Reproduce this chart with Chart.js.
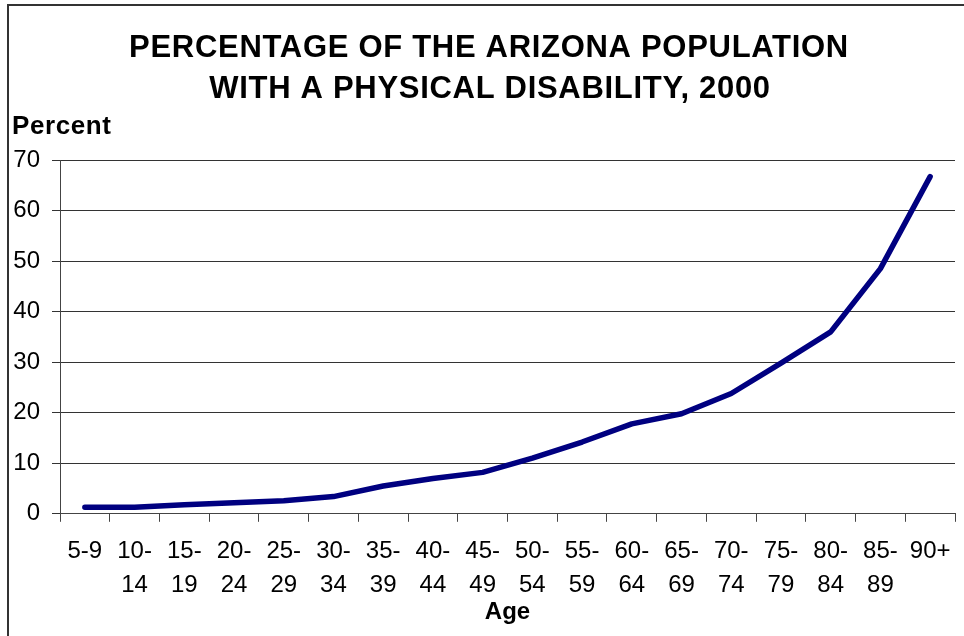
<!DOCTYPE html>
<html>
<head>
<meta charset="utf-8">
<script src="https://cdn.jsdelivr.net/npm/chart.js@4.4.1/dist/chart.umd.min.js"></script>
<style>
  html, body { margin: 0; padding: 0; background: #fff; }
  #wrap { width: 964px; height: 636px; position: relative; }
</style>
</head>
<body>
<div id="wrap"><canvas id="chart" width="964" height="636"></canvas></div>
<script>
// age groups and percent with a physical disability
const ageGroups = [
  ["5-9"], ["10-", "14"], ["15-", "19"], ["20-", "24"], ["25-", "29"], ["30-", "34"],
  ["35-", "39"], ["40-", "44"], ["45-", "49"], ["50-", "54"], ["55-", "59"], ["60-", "64"],
  ["65-", "69"], ["70-", "74"], ["75-", "79"], ["80-", "84"], ["85-", "89"], ["90+"]
];
const percentValues = [1.3, 1.3, 1.8, 2.2, 2.6, 3.4, 5.5, 7.0, 8.2, 11.0, 14.2, 17.8, 19.8, 23.8, 29.8, 36.0, 48.5, 66.7];
const yTicks = [0, 10, 20, 30, 40, 50, 60, 70];

const titleLines = ["PERCENTAGE OF THE ARIZONA POPULATION", "WITH A PHYSICAL DISABILITY, 2000"];

const font = "'Liberation Sans', Arial, sans-serif";

// frame lines, the title and the "Percent" label
const extras = {
  id: "extras",
  afterDraw(chart) {
    const ctx = chart.ctx;
    ctx.save();
    ctx.strokeStyle = "#333";
    ctx.lineWidth = 2;
    ctx.beginPath();
    ctx.moveTo(8, 636);
    ctx.lineTo(8, 5);
    ctx.lineTo(964, 5);
    ctx.stroke();

    ctx.fillStyle = "#000";
    ctx.textBaseline = "alphabetic";
    ctx.font = "bold 31px " + font;
    ctx.letterSpacing = "0.7px";
    ctx.textAlign = "center";
    ctx.fillText(titleLines[0], 489, 57);
    ctx.fillText(titleLines[1], 490, 98);

    ctx.font = "bold 26px " + font;
    ctx.letterSpacing = "0.6px";
    ctx.textAlign = "left";
    ctx.fillText("Percent", 12, 134);
    ctx.restore();
  }
};

new Chart(document.getElementById("chart"), {
  type: "line",
  data: {
    labels: ageGroups,
    datasets: [{
      data: percentValues,
      borderColor: "#000080",
      borderWidth: 5.5,
      borderCapStyle: "round",
      borderJoinStyle: "round",
      pointRadius: 0,
      tension: 0,
      fill: false
    }]
  },
  options: {
    responsive: false,
    animation: false,
    layout: { padding: { left: 0, right: 9, top: 160, bottom: 12 } },
    plugins: {
      legend: { display: false },
      tooltip: { enabled: false },
      title: { display: false }
    },
    scales: {
      x: {
        offset: true,
        grid: {
          offset: true,
          drawOnChartArea: false,
          drawTicks: true,
          tickLength: 8,
          color: "#444",
          lineWidth: 1
        },
        border: { display: true, color: "#444", width: 1 },
        ticks: {
          color: "#000",
          font: { family: font, size: 24, lineHeight: 1.4 },
          padding: 13,
          maxRotation: 0,
          autoSkip: false
        },
        title: {
          display: true,
          text: "Age",
          color: "#000",
          font: { family: font, size: 24, weight: "bold", lineHeight: 1.0 },
          padding: { top: -15, bottom: 0 }
        }
      },
      y: {
        min: 0,
        max: 70,
        afterBuildTicks(scale) {
          scale.ticks = yTicks.map(v => ({ value: v }));
        },
        afterFit(scale) {
          scale.width = 60;
        },
        grid: {
          color: "#333",
          lineWidth: 1,
          tickLength: 8
        },
        border: { display: true, color: "#444", width: 1 },
        ticks: {
          color: "#000",
          font: { family: font, size: 24 },
          padding: 12
        }
      }
    }
  },
  plugins: [extras]
});
</script>
</body>
</html>
